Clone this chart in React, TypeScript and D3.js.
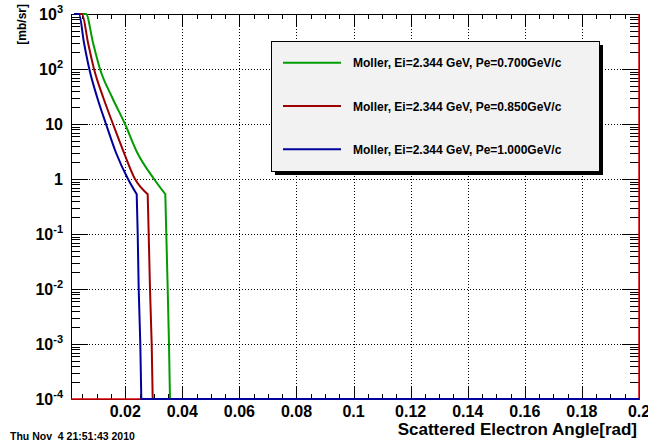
import React from "react";
import * as d3 from "d3";

// Scattering angle [rad] and differential cross-section [mb/sr] for each Moller curve
const crossSectionLevels = [2000, 1000, 300, 100, 30, 10, 3, 1, 0.53, 0.1, 0.01, 0.001, 0, 0];
const anglesPe700 = [0.00433, 0.00626, 0.00871, 0.01116, 0.01547, 0.01992, 0.02423, 0.03008, 0.03404, 0.03439, 0.03488, 0.03533, 0.03568, 0.2];
const anglesPe850 = [0.0031, 0.00485, 0.00696, 0.00906, 0.01232, 0.01571, 0.01957, 0.02342, 0.02787, 0.02822, 0.02868, 0.02927, 0.02962, 0.2];
const anglesPe1000 = [0.00205, 0.0038, 0.00555, 0.00741, 0.01021, 0.01326, 0.01677, 0.02097, 0.02402, 0.02437, 0.02472, 0.02528, 0.02563, 0.2];
// index of the knee where the falling branch turns into the steep edge
const kneeIndex = 8;

// Outline of the Pe=0.850 histogram (empty bins along the floor, overflow at the last edge)
const outlineAngles = [0.001, 0.2, 0.2];
const outlineValues = [0, 0, 1e4];

const seriesLabels = [
  "Moller, Ei=2.344 GeV, Pe=0.700GeV/c",
  "Moller, Ei=2.344 GeV, Pe=0.850GeV/c",
  "Moller, Ei=2.344 GeV, Pe=1.000GeV/c",
];
const seriesColors = ["#009c00", "#9c0000", "#00009c"];

const xTickValues = [0.02, 0.04, 0.06, 0.08, 0.1, 0.12, 0.14, 0.16, 0.18, 0.2];
const xTickLabels = ["0.02", "0.04", "0.06", "0.08", "0.1", "0.12", "0.14", "0.16", "0.18", "0.2"];
const yDecades = [1e-4, 1e-3, 1e-2, 1e-1, 1, 10, 1e2, 1e3];
const yTickBase = ["10", "10", "10", "10", "1", "10", "10", "10"];
const yTickExp = ["-4", "-3", "-2", "-1", "", "", "2", "3"];

const xTitle = "Scattered Electron Angle[rad]";
const yTitle = "[mb/sr]";
const stamp = "Thu Nov  4 21:51:43 2010";

const W = 648;
const H = 447;
const FONT = "'Liberation Sans', Arial, Helvetica, sans-serif";
const frame = { left: 71, right: 639, top: 14, bottom: 399 };

export default function App() {
  const x = d3.scaleLinear().domain([0.001, 0.2]).range([frame.left, frame.right]);
  const y = d3.scaleLog().domain([1e-4, 1e3]).range([frame.bottom, frame.top]);
  const yc = (v: number) => y(Math.min(Math.max(v, 1e-4), 1e3));

  const smooth = d3
    .line<[number, number]>()
    .x((d) => x(d[0]))
    .y((d) => yc(d[1]))
    .curve(d3.curveMonotoneX);
  const straight = d3
    .line<[number, number]>()
    .x((d) => x(d[0]))
    .y((d) => yc(d[1]));

  const pairs = (a: number[], v: number[]) => a.map((t, i) => [t, v[i]] as [number, number]);

  const curves = [anglesPe700, anglesPe850, anglesPe1000].map((a) => pairs(a, crossSectionLevels));
  const curvePath = (pts: [number, number][]) => {
    const head = smooth(pts.slice(0, kneeIndex + 1)) || "";
    const tail = (straight(pts.slice(kneeIndex)) || "").replace(/^M/, "L");
    return head + tail;
  };
  const outline = pairs(outlineAngles, outlineValues);

  const isMajor = (v: number) => Math.abs(v / 0.02 - Math.round(v / 0.02)) < 1e-6;
  const xMinor = d3.range(1, 40).map((i) => i * 0.005).filter((v) => !isMajor(v));
  const yMinor: number[] = [];
  yDecades.slice(0, -1).forEach((d) => {
    for (let k = 2; k <= 9; k++) yMinor.push(d * k);
  });

  const gridX = xTickValues.filter((v) => v < 0.2);
  const gridY = yDecades.slice(1, -1);

  const legend = { left: 271, top: 41, right: 599, bottom: 171 };
  const legendRows = [62.7, 106, 149.3];

  return (
    <svg
      width={W}
      height={H}
      style={{ position: "absolute", left: 0, top: 0, background: "#fff" }}
      fontFamily={FONT}
      fontWeight="bold"
    >
      <rect x={0} y={0} width={W} height={H} fill="#fff" />

      {/* grid */}
      <g stroke="#000" strokeWidth={1} strokeDasharray="1 2">
        {gridX.map((v) => (
          <line key={"gx" + v} x1={Math.round(x(v)) + 0.5} x2={Math.round(x(v)) + 0.5} y1={frame.top} y2={frame.bottom} />
        ))}
        {gridY.map((v) => (
          <line key={"gy" + v} x1={frame.left} x2={frame.right} y1={Math.round(y(v)) + 0.5} y2={Math.round(y(v)) + 0.5} />
        ))}
      </g>

      {/* frame */}
      <rect
        x={frame.left + 0.5}
        y={frame.top + 0.5}
        width={frame.right - frame.left}
        height={frame.bottom - frame.top}
        fill="none"
        stroke="#000"
        strokeWidth={1}
      />

      {/* ticks on all four sides */}
      <g stroke="#000" strokeWidth={1}>
        {xTickValues.map((v) => {
          const px = Math.round(x(v)) + 0.5;
          return (
            <g key={"xt" + v}>
              <line x1={px} x2={px} y1={frame.bottom} y2={frame.bottom - 12} />
              <line x1={px} x2={px} y1={frame.top} y2={frame.top + 12} />
            </g>
          );
        })}
        {xMinor.map((v) => {
          const px = Math.round(x(v)) + 0.5;
          return (
            <g key={"xm" + v}>
              <line x1={px} x2={px} y1={frame.bottom} y2={frame.bottom - 5} />
              <line x1={px} x2={px} y1={frame.top} y2={frame.top + 5} />
            </g>
          );
        })}
        {yDecades.map((v) => {
          const py = Math.round(y(v)) + 0.5;
          return (
            <g key={"yt" + v}>
              <line x1={frame.left} x2={frame.left + 17} y1={py} y2={py} />
              <line x1={frame.right} x2={frame.right - 17} y1={py} y2={py} />
            </g>
          );
        })}
        {yMinor.map((v) => {
          const py = Math.round(y(v)) + 0.5;
          return (
            <g key={"ym" + v}>
              <line x1={frame.left} x2={frame.left + 9} y1={py} y2={py} />
              <line x1={frame.right} x2={frame.right - 9} y1={py} y2={py} />
            </g>
          );
        })}
      </g>

      {/* curves */}
      <g fill="none" strokeWidth={2} strokeLinejoin="miter">
        <path d={curvePath(curves[0])} stroke={seriesColors[0]} />
        <path d={straight(outline) || ""} stroke="#e00000" strokeWidth={1.5} />
        <path d={curvePath(curves[1])} stroke={seriesColors[1]} />
        <path d={curvePath(curves[2])} stroke={seriesColors[2]} />
      </g>

      {/* tick labels */}
      <g fontSize={16} fill="#000">
        {xTickValues.map((v, i) => (
          <text key={"xl" + v} x={x(v)} y={417} textAnchor="middle">
            {xTickLabels[i]}
          </text>
        ))}
        {yDecades.map((v, i) => (
          <text key={"yl" + v} x={63} y={y(v) + 6} textAnchor="end">
            <tspan>{yTickBase[i]}</tspan>
            {yTickExp[i] && (
              <tspan dy={-7} fontSize={11}>
                {yTickExp[i]}
              </tspan>
            )}
          </text>
        ))}
      </g>

      {/* axis titles */}
      <text x={637} y={435} textAnchor="end" fontSize={17} fill="#000">
        {xTitle}
      </text>
      <text transform="translate(26,4) rotate(-90)" textAnchor="end" fontSize={12} fill="#000">
        {yTitle}
      </text>

      {/* legend */}
      <rect x={legend.left + 4} y={legend.top + 4} width={legend.right - legend.left} height={legend.bottom - legend.top} fill="#000" />
      <rect
        x={legend.left + 0.5}
        y={legend.top + 0.5}
        width={legend.right - legend.left}
        height={legend.bottom - legend.top}
        fill="#f2f2f2"
        stroke="#000"
        strokeWidth={1}
      />
      {seriesLabels.map((lab, i) => (
        <g key={lab}>
          <line x1={283} x2={341} y1={legendRows[i]} y2={legendRows[i]} stroke={seriesColors[i]} strokeWidth={2} />
          <text x={353} y={legendRows[i] + 4.5} fontSize={12} fill="#000">
            {lab}
          </text>
        </g>
      ))}

      {/* date stamp */}
      <text x={10} y={440} fontSize={10.5} fill="#000" style={{ whiteSpace: "pre" }}>
        {stamp}
      </text>
    </svg>
  );
}
